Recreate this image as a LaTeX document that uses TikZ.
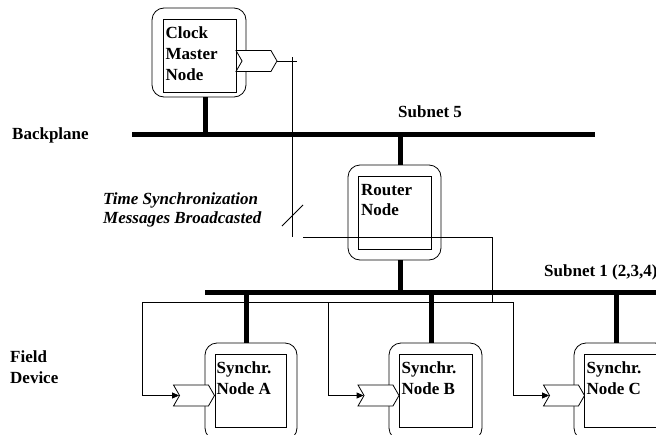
\documentclass[tikz,border=0pt]{standalone}
\usepackage{fontspec}
\setmainfont{Liberation Serif}
\usetikzlibrary{arrows.meta,shapes.symbols}
\begin{document}
\begin{tikzpicture}[x=1pt,y=-1pt,
  outerbox/.style={draw, line width=0.8pt, rounded corners=12pt, inner sep=0pt},
  innerbox/.style={draw, line width=0.8pt, fill=white, inner sep=0pt},
  bus/.style={line width=5pt},
  thin/.style={line width=0.8pt},
  chev/.style={draw, line width=0.8pt, fill=white, shape=signal, signal from=west, signal to=east,
     signal pointer angle=120, minimum width=41pt, minimum height=21pt, inner sep=0pt},
  lbl/.style={anchor=base west, inner sep=0pt, font=\fontsize{17}{20}\selectfont\bfseries, align=left},
  ilbl/.style={anchor=base west, inner sep=0pt, font=\fontsize{17}{20}\selectfont\bfseries\itshape},
  arr/.style={thin, -{Triangle[length=7pt,width=6pt]}}
]
\useasboundingbox (0,0) rectangle (656,434);
\clip (0,0) rectangle (656,434);

% buses
\coordinate (bpL) at (132,134);
\coordinate (bpR) at (595,134);
\coordinate (s1L) at (205,292);
\coordinate (s1R) at (670,292);
\draw[bus] (bpL) -- (bpR);
\draw[bus] (s1L) -- (s1R);

% Clock master
\node[outerbox, minimum width=94pt, minimum height=89pt] (cmo) at (199,52.5) {};
\node[innerbox, minimum width=73pt, minimum height=73pt] (cmi) at (199.5,55.5) {};
\node[lbl] (cmt1) at (165.5,38) {Clock};
\node[lbl] (cmt2) at (165.5,59) {Master};
\node[lbl] (cmt3) at (165.5,80) {Node};
\node[chev] (chM) at (256.5,61) {};

% Router
\node[outerbox, minimum width=93pt, minimum height=95pt] (ro) at (394.5,212.5) {};
\node[innerbox, fill=none, minimum width=73pt, minimum height=73pt] (ri) at (394.5,212.5) {};
\node[lbl] (rt1) at (361,195) {Router};
\node[lbl] (rt2) at (361,215.5) {Node};

% Field nodes
\node[outerbox, minimum width=92pt, minimum height=97pt] (ao) at (251,391.5) {};
\node[innerbox, minimum width=71pt, minimum height=73pt] (ai) at (250.5,390.5) {};
\node[lbl] (at1) at (216.5,373.5) {Synchr.};
\node[lbl] (at2) at (216.5,394.5) {Node A};

\node[outerbox, minimum width=93pt, minimum height=97pt] (bo) at (435.5,391.5) {};
\node[innerbox, minimum width=73pt, minimum height=73pt] (bi) at (435.5,390.5) {};
\node[lbl] (bt1) at (401.5,373.5) {Synchr.};
\node[lbl] (bt2) at (401.5,394.5) {Node B};

\node[outerbox, minimum width=93pt, minimum height=97pt] (co) at (620.5,391.5) {};
\node[innerbox, minimum width=73pt, minimum height=73pt] (ci) at (620.5,390.5) {};
\node[lbl] (ct1) at (586.5,373.5) {Synchr.};
\node[lbl] (ct2) at (586.5,394.5) {Node C};

% stubs
\draw[bus] (cmo.south -| 205,0) -- (bpL -| 205,0);
\draw[bus] (ro.north -| 400,0) -- (bpL -| 400,0);
\draw[bus] (ro.south -| 400,0) -- (s1L -| 400,0);
\draw[bus] (ao.north -| 246,0) -- (s1L -| 246,0);
\draw[bus] (bo.north -| 431,0) -- (s1L -| 431,0);
\draw[bus] (co.north -| 616,0) -- (s1L -| 616,0);

% labels
\node[lbl] (lbp) at (12,139) {Backplane};
\node[lbl] (ls5) at (398,117) {Subnet 5};
\node[lbl] (ls1) at (544,276) {Subnet 1 (2,3,4)};
\node[lbl] (lfd1) at (10,362) {Field};
\node[lbl] (lfd2) at (10,383) {Device};
\node[ilbl] (lts1) at (103,204) {Time Synchronization};
\node[ilbl] (lts2) at (103,223) {Messages Broadcasted};

% sync message lines
\coordinate (mEnd) at (297,61);
\coordinate (vTop) at (292,57);
\coordinate (vBot) at (292,237);
\coordinate (slA) at (282,226);
\coordinate (slB) at (303,205);
\coordinate (hL) at (303,237);
\coordinate (hR) at (492,237);
\coordinate (dL) at (142,302);
\coordinate (dR) at (513,302);
\coordinate (dB) at (328,302);
\draw[thin] (chM.east) -- (mEnd);
\draw[thin] (vTop) -- (vBot);
\draw[thin] (slA) -- (slB);
\draw[thin] (hL) -- (hR) -- (hR |- dL);
\draw[thin] (dL) -- (dR);

\node[chev] (chA) at (194,395.5) {};
\node[chev] (chB) at (378.5,395.5) {};
\node[chev] (chC) at (564,395.5) {};
\draw[arr] (dL) |- (chA.west);
\draw[arr] (dB) |- (chB.west);
\draw[arr] (dR) |- (chC.west);
\end{tikzpicture}
\end{document}
